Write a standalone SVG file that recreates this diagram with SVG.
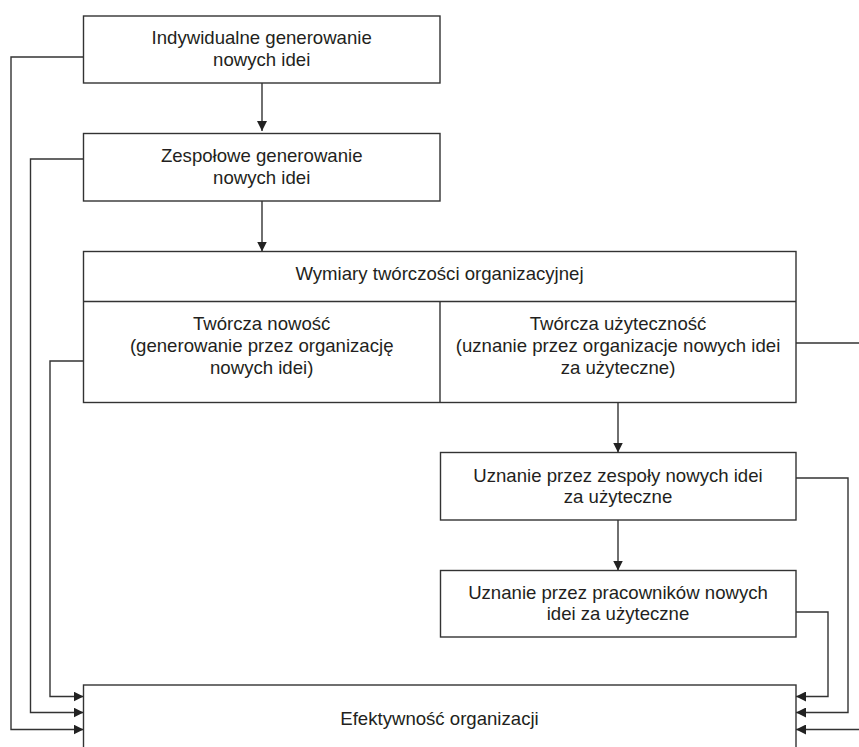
<svg xmlns="http://www.w3.org/2000/svg" width="859" height="747" viewBox="0 0 859 747">
<style>
.box{fill:#fff;stroke:#333;stroke-width:1.4}
.ln{fill:none;stroke:#333;stroke-width:1.4}
.t{font-family:"Liberation Sans",Arial,sans-serif;font-size:18.6px;fill:#231f20;text-anchor:middle}
</style>
<defs>
<marker id="ah" markerUnits="userSpaceOnUse" markerWidth="10" markerHeight="10" refX="10" refY="5" orient="auto" viewBox="0 0 10 10">
<path d="M0,0 L10,5 L0,10 z" fill="#222"/>
</marker>
</defs>
<rect width="859" height="747" fill="#fff"/>
<g id="connectors">
<path class="ln" d="M262,83 V131" marker-end="url(#ah)"/>
<path class="ln" d="M262,201 V251.5" marker-end="url(#ah)"/>
<path class="ln" d="M618,403 V452.5" marker-end="url(#ah)"/>
<path class="ln" d="M618,520 V570.5" marker-end="url(#ah)"/>
<path class="ln" d="M83.5,57 H11 V729.5 H83.5" marker-end="url(#ah)"/>
<path class="ln" d="M83.5,159 H30.5 V712.5 H83.5" marker-end="url(#ah)"/>
<path class="ln" d="M83.5,361 H50 V696.5 H83.5" marker-end="url(#ah)"/>
<path class="ln" d="M796,343 H875 V729.5 H796" marker-end="url(#ah)"/>
<path class="ln" d="M796,478 H848 V712.5 H796" marker-end="url(#ah)"/>
<path class="ln" d="M796,612 H828 V696.5 H796" marker-end="url(#ah)"/>
</g>
<g id="n1">
<rect class="box" x="83.5" y="16" width="356.5" height="67"/>
<text class="t" x="261.7" y="44">Indywidualne generowanie</text>
<text class="t" x="261.7" y="65.7">nowych idei</text>
</g>
<g id="n2">
<rect class="box" x="83.5" y="133.5" width="356.5" height="67.5"/>
<text class="t" x="261.7" y="162">Zespołowe generowanie</text>
<text class="t" x="261.7" y="183.7">nowych idei</text>
</g>
<g id="n3">
<rect class="box" x="83.5" y="251.5" width="712.5" height="151"/>
<line class="ln" x1="83.5" y1="301.5" x2="796" y2="301.5"/>
<line class="ln" x1="440" y1="301.5" x2="440" y2="402.5"/>
<text class="t" x="439.5" y="280">Wymiary twórczości organizacyjnej</text>
<text class="t" x="261.7" y="330">Twórcza nowość</text>
<text class="t" x="261.7" y="352">(generowanie przez organizację</text>
<text class="t" x="261.7" y="374">nowych idei)</text>
<text class="t" x="618" y="330">Twórcza użyteczność</text>
<text class="t" x="618" y="352">(uznanie przez organizacje nowych idei</text>
<text class="t" x="618" y="374">za użyteczne)</text>
</g>
<g id="n4">
<rect class="box" x="440.5" y="452.5" width="355.5" height="67.5"/>
<text class="t" x="618" y="481.7">Uznanie przez zespoły nowych idei</text>
<text class="t" x="618" y="502.5">za użyteczne</text>
</g>
<g id="n5">
<rect class="box" x="440.5" y="570.5" width="355.5" height="66.5"/>
<text class="t" x="618" y="599">Uznanie przez pracowników nowych</text>
<text class="t" x="618" y="620.3">idei za użyteczne</text>
</g>
<g id="n6">
<rect class="box" x="83.5" y="685" width="712.5" height="90"/>
<text class="t" x="439.5" y="725">Efektywność organizacji</text>
</g>
</svg>
